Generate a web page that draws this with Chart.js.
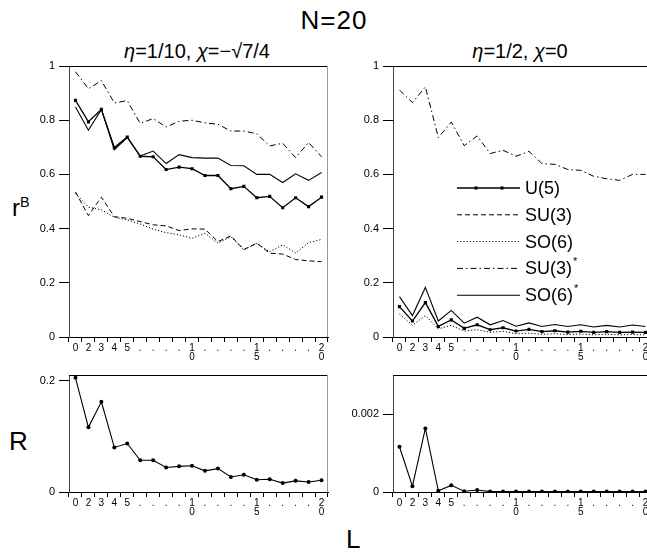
<!DOCTYPE html>
<html>
<head>
<meta charset="utf-8">
<script src="https://cdn.jsdelivr.net/npm/chart.js@4"></script>
<style>
  html, body { margin: 0; padding: 0; background: #fff; }
  body { width: 647px; height: 552px; overflow: hidden; position: relative; }
  canvas { position: absolute; }
  .txt { position: absolute; font-family: 'Liberation Sans', Arial, sans-serif; color: #000; white-space: nowrap; line-height: 1; }
  .c { transform: translateX(-50%); }
  sup { font-size: 60%; vertical-align: 0; position: relative; top: -0.6em; }
</style>
</head>
<body>
<div class="txt c" style="left:334px; top:7px; font-size:26px; letter-spacing:1px;">N=20</div>
<div class="txt c" style="left:197px; top:41px; font-size:20px;"><i>η</i>=1/10, <i>χ</i>=−√7/4</div>
<div class="txt c" style="left:520px; top:41px; font-size:20px;"><i>η</i>=1/2, <i>χ</i>=0</div>
<div class="txt" style="left:12px; top:196px; font-size:24px;">r<sup>B</sup></div>
<div class="txt" style="left:9px; top:428px; font-size:26px;">R</div>
<div class="txt" style="left:346px; top:526px; font-size:26px;">L</div>

<canvas id="topLeft"></canvas>
<canvas id="topRight"></canvas>
<canvas id="botLeft"></canvas>
<canvas id="botRight"></canvas>

<script>
// Angular momentum values L and their axis labels
const L = [0, 2, 3, 4, 5, 6, 7, 8, 9, 10, 11, 12, 13, 14, 15, 16, 17, 18, 19, 20];
const xLabels = L.map(v => v <= 5 ? String(v) : (v % 5 === 0 ? [String(Math.floor(v / 10)), String(v % 10)] : '.'));

// r^B, eta = 1/10, chi = -sqrt(7)/4
const u5A    = [0.873, 0.794, 0.840, 0.699, 0.738, 0.667, 0.665, 0.618, 0.627, 0.621, 0.596, 0.596, 0.547, 0.556, 0.514, 0.519, 0.477, 0.514, 0.481, 0.516];
const su3A   = [0.535, 0.448, 0.516, 0.444, 0.438, 0.426, 0.414, 0.410, 0.393, 0.399, 0.398, 0.352, 0.373, 0.323, 0.346, 0.309, 0.306, 0.286, 0.281, 0.278];
const so6A   = [0.530, 0.479, 0.469, 0.442, 0.432, 0.417, 0.398, 0.385, 0.377, 0.364, 0.383, 0.346, 0.370, 0.321, 0.345, 0.315, 0.340, 0.310, 0.348, 0.360];
const su3sA  = [0.979, 0.916, 0.946, 0.864, 0.872, 0.788, 0.806, 0.775, 0.796, 0.800, 0.790, 0.785, 0.760, 0.760, 0.750, 0.705, 0.715, 0.662, 0.718, 0.665];
const so6sA  = [0.849, 0.763, 0.840, 0.691, 0.736, 0.668, 0.686, 0.640, 0.673, 0.662, 0.660, 0.660, 0.633, 0.632, 0.600, 0.600, 0.570, 0.602, 0.578, 0.607];

// r^B, eta = 1/2, chi = 0
const u5B    = [0.112, 0.059, 0.127, 0.039, 0.063, 0.032, 0.045, 0.027, 0.034, 0.022, 0.028, 0.020, 0.023, 0.018, 0.021, 0.017, 0.020, 0.017, 0.018, 0.017];
const so6B   = [0.085, 0.043, 0.079, 0.030, 0.043, 0.022, 0.027, 0.017, 0.021, 0.012, 0.014, 0.010, 0.012, 0.009, 0.011, 0.008, 0.010, 0.008, 0.009, 0.008];
const su3sB  = [0.911, 0.865, 0.923, 0.736, 0.793, 0.706, 0.742, 0.677, 0.689, 0.667, 0.685, 0.640, 0.637, 0.618, 0.615, 0.593, 0.584, 0.578, 0.600, 0.600];
const so6sB  = [0.149, 0.079, 0.183, 0.059, 0.098, 0.051, 0.073, 0.045, 0.061, 0.040, 0.052, 0.039, 0.046, 0.039, 0.045, 0.037, 0.043, 0.037, 0.044, 0.039];

// R for both parameter sets
const rA = [0.205, 0.116, 0.162, 0.080, 0.087, 0.057, 0.057, 0.044, 0.046, 0.047, 0.038, 0.042, 0.027, 0.031, 0.022, 0.023, 0.016, 0.020, 0.018, 0.021];
const rB = [0.00116, 0.00015, 0.00163, 0.00003, 0.00017, 0.00002, 0.00005, 0.00001, 0.00001, 0.00001, 0.00001, 0.00001, 0.00001, 0.00001, 0.00001, 0.00001, 0.00001, 0.00001, 0.00001, 0.00001];

const legendOrder = ['U(5)', 'SU(3)', 'SO(6)', 'SU(3)*', 'SO(6)*'];

Chart.defaults.font.family = "'Liberation Sans', Arial, sans-serif";
Chart.defaults.color = '#000';

// line style of each symmetry curve
const STY = {
  'U(5)':   { borderWidth: 1.3, borderDash: [], pointStyle: 'rect', pointRadius: 2.2 },
  'SU(3)':  { borderWidth: 1, borderDash: [5, 3] },
  'SO(6)':  { borderWidth: 1, borderDash: [1.2, 2] },
  'SU(3)*': { borderWidth: 1, borderDash: [6, 3, 1.5, 3] },
  'SO(6)*': { borderWidth: 1.1, borderDash: [] },
  'R':      { borderWidth: 1.1, borderDash: [], pointStyle: 'circle', pointRadius: 2 }
};

function ds(name, data) {
  const s = STY[name];
  return {
    label: name, data,
    borderColor: '#000', backgroundColor: '#000',
    borderWidth: s.borderWidth, borderDash: s.borderDash,
    pointStyle: s.pointStyle || 'circle', pointRadius: s.pointRadius || 0,
    pointBorderWidth: 0, pointHoverRadius: 0, tension: 0, fill: false
  };
}

// plain decimal tick text: 0, 0.2, ..., 1 and 0.002
const tickText = v => String(Math.round(v * 10000) / 10000);

// top and right edges of each plot box
const frame = {
  id: 'frame',
  afterDraw(chart) {
    const { ctx, chartArea: a } = chart;
    ctx.save();
    ctx.lineWidth = 1;
    ctx.strokeStyle = '#000';
    ctx.beginPath(); ctx.moveTo(a.left, a.top + 0.5); ctx.lineTo(a.right, a.top + 0.5); ctx.stroke();
    ctx.strokeStyle = '#999';
    ctx.beginPath(); ctx.moveTo(a.right - 0.5, a.top); ctx.lineTo(a.right - 0.5, a.bottom); ctx.stroke();
    ctx.restore();
  }
};

// key of line styles drawn inside the right-hand panel
const seriesKey = {
  id: 'seriesKey',
  afterDraw(chart) {
    const { ctx, chartArea: a } = chart;
    ctx.save();
    legendOrder.forEach((name, i) => {
      const s = STY[name];
      const y = a.top + 122 + i * 26.8;
      ctx.strokeStyle = '#000';
      ctx.fillStyle = '#000';
      ctx.lineWidth = s.borderWidth;
      ctx.setLineDash(s.borderDash);
      ctx.beginPath(); ctx.moveTo(a.left + 64, y); ctx.lineTo(a.left + 127, y); ctx.stroke();
      ctx.setLineDash([]);
      if (s.pointStyle) {
        [83, 109].forEach(dx => Chart.helpers.drawPoint(ctx, { pointStyle: s.pointStyle, radius: s.pointRadius, borderWidth: 0, rotation: 0 }, a.left + dx, y));
      }
      const star = name.endsWith('*');
      const base = star ? name.slice(0, -1) : name;
      ctx.font = "18px 'Liberation Sans', Arial, sans-serif";
      ctx.textBaseline = 'middle';
      ctx.textAlign = 'left';
      ctx.fillText(base, a.left + 132, y + 1);
      if (star) {
        const w = ctx.measureText(base).width;
        ctx.font = "11px 'Liberation Sans', Arial, sans-serif";
        ctx.fillText('*', a.left + 133 + w, y - 6);
      }
    });
    ctx.restore();
  }
};

function panel(id, area, datasets, yMax, yStep, extra) {
  const W = 60, H = 30, PT = 14, PR = 14;
  const c = document.getElementById(id);
  const w = area.r - area.l + W + PR, h = area.b - area.t + PT + H;
  c.width = w; c.height = h;
  c.style.width = w + 'px'; c.style.height = h + 'px';
  c.style.left = (area.l - W) + 'px'; c.style.top = (area.t - PT) + 'px';
  return new Chart(c, {
    type: 'line',
    data: { labels: xLabels, datasets },
    options: {
      responsive: false, devicePixelRatio: 1, animation: false,
      layout: { padding: { top: PT, right: PR, left: 0, bottom: 0 } },
      plugins: { legend: { display: false }, tooltip: { enabled: false } },
      scales: {
        x: {
          offset: true,
          grid: { offset: true, drawOnChartArea: false, tickLength: 5, color: '#000', lineWidth: 1 },
          border: { color: '#000', width: 1 },
          ticks: { autoSkip: false, maxRotation: 0, minRotation: 0, padding: 1, font: { size: 10, lineHeight: 0.95 } },
          afterFit: s => { s.height = H; }
        },
        y: {
          min: 0, max: yMax,
          grid: { drawOnChartArea: false, tickLength: 10, color: '#000', lineWidth: 1 },
          border: { color: '#444', width: 1 },
          ticks: { stepSize: yStep, includeBounds: false, padding: 4, font: { size: 11 }, callback: tickText },
          afterFit: s => { s.width = W; }
        }
      }
    },
    plugins: [frame].concat(extra || [])
  });
}

panel('topLeft', { l: 69, r: 328, t: 66, b: 337 }, [
  ds('SU(3)*', su3sA), ds('SO(6)*', so6sA), ds('SU(3)', su3A), ds('SO(6)', so6A), ds('U(5)', u5A)
], 1, 0.2);

panel('topRight', { l: 393, r: 652, t: 66, b: 337 }, [
  ds('SU(3)*', su3sB), ds('SO(6)*', so6sB), ds('SO(6)', so6B), ds('U(5)', u5B)
], 1, 0.2, [seriesKey]);

panel('botLeft', { l: 69, r: 328, t: 375, b: 492 }, [ds('R', rA)], 0.21, 0.2);
panel('botRight', { l: 393, r: 652, t: 375, b: 492 }, [ds('R', rB)], 0.003, 0.002);
</script>
</body>
</html>
